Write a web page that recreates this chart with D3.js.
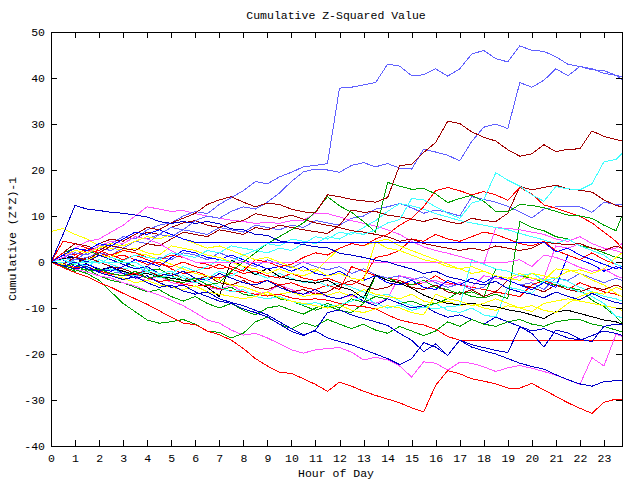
<!DOCTYPE html>
<html><head><meta charset="utf-8">
<script src="https://cdn.jsdelivr.net/npm/d3@7"></script>
<style>body{margin:0;background:#fff}svg{display:block}</style>
</head><body><svg id="c" width="640" height="480"></svg>
<script>
const hours = [0,0.5,1,1.5,2,2.5,3,3.5,4,4.5,5,5.5,6,6.5,7,7.5,8,8.5,9,9.5,10,10.5,11,11.5,12,12.5,13,13.5,14,14.5,15,15.5,16,16.5,17,17.5,18,18.5,19,19.5,20,20.5,21,21.5,22,22.5,23,23.5,23.75];
const xTicks = [0,1,2,3,4,5,6,7,8,9,10,11,12,13,14,15,16,17,18,19,20,21,22,23];
const yTicks = [-40,-30,-20,-10,0,10,20,30,40,50];

const lblueA = [0,1,2,1.5,3.5,4,5.5,5, 7,8,8.5,10,11,10.5,12.5,14, 15.5,17.5,17,18.5,19.5,20.7,21,21.4, 37.8,38,38.5,39,43,42.6,40.5,40.7, 42,40.4,42,45.2,46,44.2,43.5,47, 46,45.8,44.6,43,42.5,42,41,40.6, 40.3];
const lblueB = [0,-0.5,0.5,1,2,1.5,3,4.5, 4,6,7.5,7,9,10,9.5,11, 12,11.5,13,15,17.5,19.6,20.2,20, 19.5,21,21.6,20.7,21.4,20.4,20.2,24.5, 23.9,23.2,22,26.2,29.3,30,29,39, 38,39.5,42,40.5,42.5,41.8,41.6,40.6, 39.7];
const lblue3 = [0,1,0.5,2,3,2.5,4,5.5, 5,6,5.5,7,6.5,6,7.5,7, 6.5,8,7.5,7,8,7.5,9,8.5, 8,9.5,10,11.5,12,12.7,11.8,10.6, 11.3,10.8,10,14.2,13.6,13,12.1,10.9, 9.6,11.5,12,12,12,10.8,13,12.5, 12.4];
const lblue4 = [0,-1,-0.5,-2,-1.5,-2.5,-2,-3.5, -1,1,0.5,2,1.5,0.5,2,1, 0,-1,0.5,-0.5,-1.2,0,-1,-1.7, -1,-2.5,-1.5,-2.8,-3.5,-3,-3.9,-3.2, -4.5,-5.5,-4.8,-6,-5.5,-3,-4,-5, -4.5,-6,-3.5,-4,-2.5,-3.5,-4.5,-3.5, -4];
const dred1 = [0,1.5,3,2.5,4,5,4.5,6, 7.5,7,8.5,9.5,10.6,12.5,13.5,14.2, 13,12,12.8,12.5,11.5,10.9,10.7,14.6, 14.2,13.6,13.3,13,14,21,21.2,23.8, 26,30.6,30.1,28.3,27.1,26.3,24.4,23, 23.5,25.5,24,24.5,24.6,28.5,27.3,26.6, 26.4];
const dred2 = [0,-0.5,1,0.5,2,3.5,3,2.5, 4,3.5,5,6.5,6,5.5,7,6.5, 6,7.5,7,8,7.5,7,6.6,6.2, 8,11.3,10.8,11,10.2,9.8,9.3,8.8, 9.5,8.8,8.3,9.5,9,8.8,10.6,16.4, 15.7,16.2,16.7,15.9,15.6,15.2,13.5,12.3, 12];
const dred3 = [0,2,4,3.5,2.5,4,5.5,5, 6.5,6,7.5,8.5,9,8,7.5,8.5, 9,10.5,10,9.5,10.2,9.3,8.5,8, 7.5,6.8,6.5,6,5.5,4.5,5,4, 3.5,3,2.5,3,2.5,3.5,3,2.5, 3,4.3,4,3.8,4,3,2.5,3.5, 3];
const dred4 = [0,-1,-0.5,1,0,-1,-1.5,-2.5, -2,-3,-2.5,-3.5,-4,-3,-4.5,-5, -4,-5.5,-6,-5,-6.5,-6,-7,-6.5, -5,-4,-5,-6,-5.5,-4,-5.5,-6, -5,-6.5,-7,-6,-7.5,-6.5,-4,-5, -5.5,-6.5,-5,-6,-6.5,-5.5,-6,-5, -5.5];
const red2 = [0,2,1.5,3,2.5,1.5,2.5,2, 1,0.5,1.5,1,0,-0.5,-1.5,-1, -2,0.5,0,-1,-0.5,1,2,1.5, 3,4,3.5,5,6,8,9.5,12, 15.5,16.2,15.5,14.6,15.3,14.6,13.4,16.2, 14.8,12.4,11.7,10.8,9.9,8.5,6.5,4.5, 3];
const redFlat = [0,-0.5,-1.2,-1,-2,-2.6,-3,-2.5, -3.5,-4.2,-4,-4.8,-5.3,-5,-5.8,-6.3, -6.5,-7,-7.4,-7,-7.8,-8.2,-8,-8.3, -9,-9.5,-9.7,-10.2,-11.5,-12.6,-13.2,-13.7, -14.6,-16.2,-17,-17,-17,-17,-17,-17, -17,-17,-17,-17,-17,-17,-17,-17, -17];
const redLow = [0,-1.2,-2.3,-3.2,-4.5,-5.5,-6.8,-8, -9.2,-10.6,-12,-13.3,-13.6,-15,-15.8,-17, -18.8,-21,-22.6,-24,-24.2,-25.4,-26.6,-28.1, -26.1,-27,-28.1,-29,-29.8,-30.6,-31.7,-32.6, -26.8,-23.6,-24.3,-25.4,-25.9,-26.5,-27.4,-27.4, -26.4,-27.8,-29.2,-30.6,-31.8,-32.9,-30.5,-29.8, -30];
const red4 = [0,4.5,4,3,2,1,1.5,0.5, -0.5,0,-1.5,-2.5,-2,-3,-3.5,-2.5, -3.5,-4.5,-4,-5,-4.5,-5.5,-6,-5, -6,-1,-2,-3,-3.5,-4,-5,-4.5, -3,-4.5,-5,-5.5,-6,-6.5,-7,-7.5, -5,-4,-5,-6,-4.5,-5.5,-6.5,-7, -7.5];
const red5 = [0,-0.5,1,2.5,2,1.5,0.5,1.5, 0.5,-0.5,-1,0,-1,-1.5,-0.5,-1.5, -2.5,-2,-3,-3.5,-2.5,-3.5,-4,-3.5, -4.5,-5,-3.5,1,1.5,2.5,5,4.5, 6,5,4.5,5.5,6.5,6,5,4, 3.5,4.5,2.5,1.5,0.5,2,0.5,-0.5, -1];
const green1 = [0,-1,-0.5,-2,-1.5,-2.5,-3,-2, -3.5,-3,-4,-4.5,-3.5,-5,-4.5,-2, 0,2,4,5.5,7,8.5,10.9,14.2, 12.2,10.8,8.8,6.5,17.3,16.5,15.8,16, 14.8,12.9,13.8,14.5,13.2,11,10.9,12.5, 12.3,11.8,11,10.2,10,9.5,8,6.8, 10];
const green2 = [0,2,3,2.5,1.5,1,0,-1, -2,-1.5,-3,-4,-3.5,-5,-6,-5.5, -7,-7.5,-6.5,-8,-8.5,-9.5,-10.5,-9.5, -10.5,-11,-9,-3,-3.5,-4.5,-5,-4, -5.5,-6,-7,-6.5,-7.5,-1.5,-2,-3, -3.5,-4.5,-5,-5.5,-6.1,-8.3,-9.7,-11.9, -13.3];
const green3 = [0,-0.5,-1.7,-2.5,-4,-6.5,-9,-10.8, -12.6,-13.3,-13,-12.5,-13.5,-15,-15.3,-16.5, -15.5,-13,-12,-13.5,-14.5,-13.2,-14,-12.5, -13.5,-14.5,-13.5,-14.8,-15.5,-14,-15,-16, -15,-13,-14,-12.5,-13.5,-14,-13,-12.5, -13.5,-14,-13,-12.6,-12.5,-13.5,-14,-14.8, -15.2];
const green4 = [0,-1,-2,-1.5,-3,-4,-4.5,-5.5, -6.5,-6,-7.5,-8.5,-7.5,-9,-10,-9, -10.5,-11.5,-10,-9.5,-10.5,-11.3,-10,-9, -10,-8,-8.8,-7.5,-8,-9,-8.5,-9.5, -9,-8,-6.5,-7.5,-7.8,-7,-8,8.8, 7.5,6.8,5.5,5,3.5,3,2,1, 0.8];
const mag2 = [0,1.5,3,4.5,5,6.5,8,10, 12,11.5,11,11.2,10.5,10,9.5,9.1, 8.8,8.4,8.6,8.4,9,9.1,10.6,10.5, 9.8,9,8.4,7.8,7,6,4.5,3.3, 2.5,1.9,1.2,0.5,-0.5,7.5,7.3,7, 6.5,6,5,4.5,5.5,4,3,2.5, 2];
const magFlat = [0,1,2.5,2,3.5,4.5,4,5.5, 5,4,2.5,1,0,0,0,0, 0,0,0,0,0,0,0,0, 0,0,0,0,0,0,0,0, 0,0,0,0,0,0,0,0.5, -1,1.5,1,0,-1.2,-2,-1.5,-3, -3.5];
const magLow = [0,-0.8,-1.5,-2.2,-3,-3.5,-4.5,-5.2, -6.3,-7.2,-8.3,-9.5,-11,-12.6,-13.3,-14.8, -15.9,-15.5,-16.5,-17.8,-19.1,-19.8,-19.1,-18.8, -18.6,-19.6,-21.3,-20.7,-21.3,-22.6,-25,-21.7, -22,-23.5,-21.8,-22,-22.8,-23.8,-23,-22.5, -23.1,-23.8,-24.6,-25.6,-26.6,-20.8,-22.6,-15.7, -16.2];
const mag4 = [0,-0.5,-1.5,-1,-2,-2.8,-2.5,-3.5, -4,-3,-4.5,-5,-4.2,-5.5,-6,-5, -6.5,-7,-6.5,-5,-6,-7,-6.5,-7.5, -8,-7.2,-8.5,-9,-8,-3,-3.5,-4.5, -4,-5,-4.5,-5.5,-3,-3.5,-4,-3, -4,-3.5,3.5,3,4,3,2.5,3, 4];
const cyan1 = [0,0.5,-0.5,0.5,-0.3,1,0.2,1.5, 1,0.5,2,1.5,1,2.5,2,3.5, 3,2.5,4,3.5,5,4.5,4,5.5, 5,6.5,6,7,8.5,9.2,13.8,13.5, 12,10.6,9.5,12.8,13.6,19.4,17.8,16.5, 14.6,13.2,16.4,15.9,15.7,17,21.8,22.3, 23.6];
const cyanFlat = [0,0,0,0,0,0,0,0, -1.5,-2.5,-2,-3.5,-4.5,-4,-5.5,-6.5, -6,-7.5,-8,-7.5,-8.5,-9.3,-8.8,-9.6, -9.3,-8.5,-7.5,-9,-10,-9.4,-10.5,-9.8, -10.2,-9.7,-9.5,0.4,-0.5,-1.5,-2,-3, -2.5,-3.9,-4.5,-5.5,-6.5,-7.5,-9,-11.9, -12];
const cyan3 = [0,1,0,-1,0.5,-0.5,-1.5,-1, -2,-2.8,-3.5,-3,-4,-3.5,-2,-3, -1.5,-2.5,-3.5,-2.5,-3.5,-4.5,-4,-5.3, -4.5,-5.5,-6.5,-7.5,-7,-8.5,-9.5,-10, -9,-10.5,-11,-10,-11.5,-12,-5.5,-6, -6.8,-4,-3.5,-4.2,-5.5,-6.5,-7.5,-8, -8.5];
const cyan4 = [0,-1,-0.2,-1.2,-2,-1.5,-2.5,-3, -2,-3.5,-2.5,-1,-2,-1,0.5,0, 1.5,2.5,2,3,2.5,4,5.5,5, 6.5,6,7.5,9,11,12.7,12.2,11.5, 10.5,9.8,9,8.5,8,7.5,7,6.2, 5.5,4.8,4,5,3.5,2.5,1.5,-0.5, -1];
const yel1 = [6.6,7.3,6,5,3.5,3,2.6,2, 1.5,0.5,-0.5,-1.5,-2.5,-3,-3.9,-5, -5.4,-6.3,-7.2,-7,-6.5,-7.5,-7,-7.2, -6.5,-7.5,-6,-7,-7.5,-8,-7,-8.5, -9,-8.5,-9.5,-9,-10,-10.5,-9.5,-10, -10.8,-9,-8.5,-8,-8.5,-9,-9.5,-10, -10.5];
const yel2 = [0,0.5,-0.5,0.5,1.5,1,2.5,3, 2,1.5,3.5,3,2.5,1.5,1,0, -1,-1.5,-2.5,-1.5,-2.5,-3,-2,0.5, 3,4,3.5,4.4,3,2.5,1.5,0.5, 0,-1,-1.5,-2.5,-2,-3,-3.5,-2.5, -3.5,-4,-1.5,-1.7,-2.5,-3.9,-5,-6.8, -7.5];
const yel3 = [0,-0.5,-1.5,-1,-2.2,-3,-3.5,-4.5, -4,-5,-5.5,-6,-5.2,-6.5,-7,-7.5, -8,-7.5,-6.5,-7.8,-8.5,-9,-9.5,-10, -9.3,-10.5,-11,-10.2,-9.5,-10,-11,-11.5, -7,-8,-8.5,-9.5,-9,-8,-9,-10, -9.5,-10.5,-11,-9,-7.5,-6.5,-7,-5.5, -6];
const yel4 = [0,1.5,2.5,2,3,4,3.5,4.5, 5.5,5,6,5,4,3,3.5,2.5, 1.5,0.5,1,0,-1,-2,-1.5,-3, -2.5,-3.5,-4,4.4,5,3.5,2.5,1.5, 0.5,-0.5,-1.5,-1,-2,-3,-3.5,-4, -2.5,-3,-3.5,-2,-1.7,-2.5,-1.5,1, 2];
const black1 = [0,0.8,1,-0.5,-1.7,-1.2,-2,-2.8, -2.5,-3.2,-3.5,-4,-4.3,-5.5,-7.5,0.4, -1,-2.8,-1.4,-3.2,-3.8,-4.2,-4.6,-3.9, -5.4,-6.1,-7.9,-2.8,-4,-4.6,-5.7,-7.2, -8.2,-9,-9.3,-9,-9.4,-9.7,-10.4,-10.8, -11.5,-12.3,-10.8,-10.5,-11.2,-11.9,-12.6,-13, -13.5];
const blueFlat = [0,1.5,3,2.5,4,3.5,5,6.5, 6,7,6,5,4.3,4.3,4.3,4.3, 4.3,4.3,4.3,4.3,4.3,4.3,4.3,4.3, 4.3,4.3,4.3,4.3,4.3,4.3,4.3,4.3, 4.3,4.3,4.3,4.3,4.3,4.3,4.3,4.3, 4.3,4.3,2.2,3,1.5,0.5,-0.5,-1.5, -1];
const blue1 = [0,-0.8,-1.5,-1,-2.3,-3,-3.8,-3.2, -4.5,-5.5,-5,-6.3,-7,-6.5,-8,-8.8, -9.5,-10.5,-11.5,-13,-14.5,-15.8,-15,-16.5, -17.3,-18,-19,-20,-21,-22.3,-21,-17.5, -18.5,-20.3,-17,-18.5,-19.3,-20,-21,-22, -22.7,-23.3,-24.5,-25.6,-26.5,-27,-26,-25.8, -25.7];
const blue2 = [0,-1,0,-1.5,-2,-1,-2.5,-3.5, -3,-4.5,-5.5,-5,-6.5,-7.5,-8.5,-9, -10.2,-11,-11.9,-13.5,-15.1,-16,-14.8,-11, -10.4,-11.5,-12.3,-13,-13.8,-15.5,-17,-19.5, -17.8,-20.3,-17,-18,-18.6,-19.2,-19.7,-14.1, -15.5,-18.5,-14.8,-15.4,-16.8,-17.3,-14,-13.5, -13.7];
const blue3 = [0,6,12.3,11.5,11.2,10.8,10.6,10.2, 9.8,8.8,8.4,8.8,8.4,8.8,8.3,7.2, 7,6,5.8,4.6,4.2,3.8,3.3,3.1, 1.9,1.5,1,0.4,0,-0.8,-1.5,-2.5, -2,-3.2,-3.8,-4.5,-5,-4.2,-5.8,-6.5, -7,-7.8,-6.5,-7.5,-8.2,-6.8,-8,-8.8, -9];
const blue5 = [0,1.5,1,0,1.5,0.5,-0.5,-1.5, -1,-2.5,-3,-2,-3.5,-4,-2.5,-3.5, -4.5,-5,-4,-5.5,-6.5,-7,-6,-7.5, -8,-7,-8.5,-9.5,-8,-9,-10,-9.5, -11,-12,-11.5,-12.5,-13.5,-12,-13,-14, -15,-14.5,-15.5,-16.5,-17,-16,-15,-15.5, -16];
const blue6 = [0,0.5,-1,-0.5,-1.5,-2,-1,0.5, 0,-1,1,2.5,2,1,0.5,1.5, 0.5,-0.5,-1.5,-1,-2,-1,-2.5,-3, -2,-3.5,-4,-3,-4.5,-5,-4,-5.5, -6,-4,-5,-3.5,-4.5,-3,-4,-5, -6,-4.5,-5.5,1.5,0.5,-0.5,-2,-1, -1.5];

const C = {red:"#ff0000", green:"#00a000", lblue:"#6060ff", mag:"#ff50ff", cyan:"#40ffff",
           dred:"#a00000", yel:"#ffff00", black:"#000000", blue:"#0000ff", navy:"#0000c8"};
const series = [
  [red4,C.red],[green2,C.green],[lblue4,C.lblue],[mag4,C.mag],[cyan3,C.cyan],[dred4,C.dred],[yel1,C.yel],[black1,C.black],[blue6,C.blue],
  [red5,C.red],[green4,C.green],[lblue3,C.lblue],[mag2,C.mag],[cyan4,C.cyan],[dred3,C.dred],[yel2,C.yel],[blue5,C.navy],
  [redFlat,C.red],[green3,C.green],[lblueB,C.lblue],[magLow,C.mag],[cyanFlat,C.cyan],[dred2,C.dred],[yel3,C.yel],[blue2,C.navy],
  [red2,C.red],[green1,C.green],[lblueA,C.lblue],[magFlat,C.mag],[cyan1,C.cyan],[dred1,C.dred],[yel4,C.yel],[blue1,C.navy],
  [redLow,C.red],[blue3,C.navy],[blueFlat,C.blue]
];

const svg = d3.select("#c");
const x = d3.scaleLinear().domain([0,23.75]).range([51,622]);
const y = d3.scaleLinear().domain([-40,50]).range([446,32]);
const FONT = "'Liberation Mono', monospace";
const FS = 11.5;

const line = d3.line().x((d,i)=>x(hours[i])).y(d=>y(d));
svg.append("g").selectAll("path").data(series).join("path")
  .attr("d", d=>line(d[0])).attr("fill","none").attr("stroke", d=>d[1])
  .attr("stroke-width",1).attr("shape-rendering","crispEdges");

svg.append("rect").attr("x",x(0)+0.5).attr("y",y(50)+0.5)
  .attr("width",x(23.75)-x(0)).attr("height",y(-40)-y(50))
  .attr("fill","none").attr("stroke","#000").attr("shape-rendering","crispEdges");

function style(g){ g.select(".domain").remove(); g.attr("font-family",FONT).attr("font-size",FS);
  g.selectAll("line").attr("shape-rendering","crispEdges"); }
svg.append("g").attr("transform",`translate(0,${y(-40)})`)
  .call(d3.axisBottom(x).tickValues(xTicks).tickSize(-6).tickPadding(8).tickFormat(d=>String(d))).call(style);
svg.append("g").attr("transform",`translate(0,${y(50)})`)
  .call(d3.axisTop(x).tickValues(xTicks).tickSize(-6).tickFormat("")).call(style);
svg.append("g").attr("transform",`translate(${x(0)},0)`)
  .call(d3.axisLeft(y).tickValues(yTicks).tickSize(-6).tickPadding(6).tickFormat(d=>String(d))).call(style);
svg.append("g").attr("transform",`translate(${x(23.75)},0)`)
  .call(d3.axisRight(y).tickValues(yTicks).tickSize(-6).tickFormat("")).call(style);

svg.append("text").attr("x",336).attr("y",19).attr("text-anchor","middle")
  .attr("font-family",FONT).attr("font-size",FS).text("Cumulative Z-Squared Value");
svg.append("text").attr("x",336).attr("y",477).attr("text-anchor","middle")
  .attr("font-family",FONT).attr("font-size",FS).text("Hour of Day");
svg.append("text").attr("transform","translate(16,239) rotate(-90)").attr("text-anchor","middle")
  .attr("font-family",FONT).attr("font-size",FS).text("Cumulative (Z*Z)-1");
</script></body></html>
